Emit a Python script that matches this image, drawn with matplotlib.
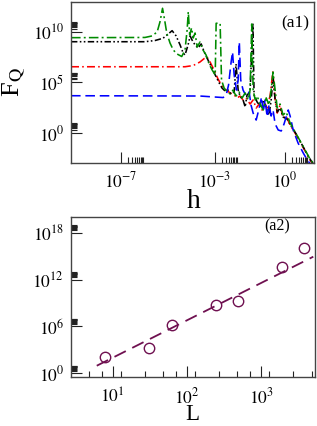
import numpy as np
import matplotlib
matplotlib.use('Agg')
import matplotlib.pyplot as plt
from matplotlib.ticker import FixedLocator, FixedFormatter, NullFormatter

plt.rcParams['font.family'] = ['Liberation Serif', 'DejaVu Serif']
plt.rcParams['mathtext.fontset'] = 'stix'

# ---------------- panel (a1): log10(h), log10(F_Q) ----------------
blue_logh = [-9.13, -3.62, -2.97, -2.63, -2.50, -2.40, -2.29, -2.23, -2.16, -2.06,
             -1.99, -1.94, -1.88, -1.78, -1.65, -1.52, -1.44, -1.35, -1.22, -1.09,
             -0.99, -0.92, -0.84, -0.75, -0.67, -0.58, -0.50, -0.41, -0.28, -0.15,
             -0.03, 0.15, 0.23, 0.36, 0.57, 0.79, 1.00, 1.08]
blue_logF = [3.68, 3.65, 3.55, 3.50, 3.75, 4.74, 7.01, 8.00, 5.73, 4.24,
             5.23, 8.98, 5.23, 4.24, 3.65, 4.05, 2.76, 1.97, 1.28, 2.47,
             3.55, 2.07, 3.26, 1.58, 2.76, 1.68, 2.27, 0.89, 0.30, 0.20,
             0.89, 2.27, 1.68, 0.30, -0.99, -1.97, -2.81, -2.96]

red_logh = [-9.13, -4.26, -3.91, -3.62, -3.44, -3.32, -3.19, -3.02, -2.85, -2.68,
            -2.50, -2.33, -2.16, -2.03, -1.91, -1.78, -1.65, -1.48, -1.35, -1.22,
            -1.09, -0.97, -0.84, -0.75, -0.62, -0.51, -0.41, -0.32, -0.20, -0.07,
            0.06, 0.23, 0.44, 0.66, 0.87, 1.08, 1.17]
red_logF = [6.54, 6.54, 6.66, 7.01, 7.35, 7.50, 7.01, 6.22, 5.33, 4.64,
            4.24, 3.95, 3.75, 3.46, 3.65, 3.26, 3.46, 2.86, 3.26, 2.47,
            2.86, 2.27, 2.86, 2.47, 3.75, 6.02, 3.26, 1.97, 2.76, 1.48,
            1.68, 0.79, 0.00, -0.89, -1.78, -2.67, -2.96]

green_logh = [-9.13, -5.97, -5.67, -5.45, -5.33, -5.22, -5.13, -5.04, -4.90, -4.76,
              -4.60, -4.40, -4.26, -4.17, -4.12, -4.06, -3.98, -3.91, -3.83, -3.74,
              -3.62, -3.49, -3.36, -3.23, -3.10, -2.97, -2.93, -2.76, -2.70, -2.59,
              -2.46, -2.33, -2.21, -2.08, -1.95, -1.82, -1.69, -1.56, -1.48, -1.41,
              -1.35, -1.26, -1.18, -1.05, -0.92, -0.79, -0.67, -0.58, -0.50, -0.41,
              -0.32, -0.20, -0.07, 0.06, 0.23, 0.44, 0.66, 0.87, 1.08, 1.21]
green_logF = [9.41, 9.43, 9.58, 9.97, 10.96, 12.31, 11.15, 9.87, 8.88, 8.19,
              7.80, 7.55, 8.19, 10.17, 11.97, 9.67, 10.37, 9.38, 9.87, 8.49,
              8.98, 8.19, 7.70, 6.81, 6.22, 5.73, 10.83, 10.83, 5.23, 4.44,
              4.05, 3.85, 4.24, 3.65, 4.05, 3.46, 3.95, 3.26, 4.24, 10.76,
              4.24, 3.26, 3.65, 2.86, 2.27, 3.46, 2.76, 4.24, 6.02, 4.24,
              2.47, 2.86, 1.78, 2.07, 0.99, 0.10, -0.79, -1.68, -2.57, -2.96]

black_logh = [-9.13, -5.97, -5.54, -5.20, -4.98, -4.81, -4.64, -4.47, -4.34, -4.26,
              -4.13, -4.04, -3.96, -3.83, -3.70, -3.57, -3.44, -3.32, -3.15, -2.97,
              -2.80, -2.68, -2.55, -2.42, -2.29, -2.16, -2.08, -1.99, -1.91, -1.78,
              -1.69, -1.61, -1.48, -1.36, -1.31, -1.18, -1.05, -0.92, -0.79, -0.67,
              -0.58, -0.50, -0.41, -0.32, -0.20, -0.07, 0.10, 0.27, 0.49, 0.70,
              0.91, 1.13, 1.21]
black_logF = [9.01, 9.01, 9.13, 9.35, 9.77, 10.10, 9.58, 8.69, 7.90, 7.70,
              8.69, 9.58, 9.18, 8.69, 8.39, 8.79, 8.00, 7.40, 6.61, 5.73,
              4.94, 4.44, 4.15, 4.24, 3.85, 4.05, 6.81, 4.24, 3.65, 3.26,
              2.57, 3.75, 4.05, 10.83, 3.75, 3.06, 2.67, 3.26, 2.47, 1.78,
              3.26, 5.43, 3.26, 2.07, 2.47, 1.58, 1.38, 0.69, -0.10, -0.99,
              -1.88, -2.76, -2.96]

a1_xticks = [1e-7, 1e-3, 1e0]
a1_xticklabels = [r'$10^{-7}$', r'$10^{-3}$', r'$10^{0}$']
a1_yticks = [1e0, 1e5, 1e10]
a1_yticklabels = [r'$10^{0}$', r'$10^{5}$', r'$10^{10}$']

# ---------------- panel (a2) ----------------
L_vals = [8, 31, 63, 245, 490, 1940, 3800]
FQmax_exp = [2.13, 3.28, 6.18, 8.74, 9.25, 13.57, 16.08]
fit_L = [6.1, 5070]
fit_exp = [0.97, 14.93]

a2_xticks = [1e1, 1e2, 1e3]
a2_xticklabels = [r'$10^{1}$', r'$10^{2}$', r'$10^{3}$']
a2_xminor_mult = [1.3, 2.7, 4.8, 7.1]
a2_yticks = [1e0, 1e6, 1e12, 1e18]
a2_yticklabels = [r'$10^{0}$', r'$10^{6}$', r'$10^{12}$', r'$10^{18}$']

W, H = 317, 426
fig = plt.figure(figsize=(W / 100, H / 100), dpi=100)


def style_axes(ax, xt, xtl, xminor, yt, ytl, yminor, xpad):
    ax.xaxis.set_major_locator(FixedLocator(xt))
    ax.xaxis.set_major_formatter(FixedFormatter(xtl))
    ax.xaxis.set_minor_locator(FixedLocator(xminor))
    ax.xaxis.set_minor_formatter(NullFormatter())
    ax.yaxis.set_major_locator(FixedLocator(yt))
    ax.yaxis.set_major_formatter(FixedFormatter(ytl))
    ax.yaxis.set_minor_locator(FixedLocator(yminor))
    ax.yaxis.set_minor_formatter(NullFormatter())
    ax.tick_params(which='both', direction='in', top=False, right=False,
                   color='#222222', width=0.8, labelsize=12.5)
    ax.tick_params(which='major', length=8.0)
    ax.tick_params(axis='y', which='major', pad=5)
    ax.tick_params(axis='x', which='major', pad=xpad)
    ax.tick_params(which='minor', length=4.3)
    for s in ax.spines.values():
        s.set_linewidth(1.0)
        s.set_color('#444444')


def minors_of(majors, mults):
    return [m * t for t in majors for m in mults]


# ---- top panel
ax1 = fig.add_axes([71 / W, 1 - 162.7 / H, 243 / W, 160.7 / H])
ax1.set_xscale('log')
ax1.set_yscale('log')
ax1.plot(10 ** np.array(red_logh), 10 ** np.array(red_logF), color='#ff0000',
         lw=1.15, ls=(0, (5, 2, 1, 2)))
ax1.plot(10 ** np.array(black_logh), 10 ** np.array(black_logF), color='black',
         lw=1.15, ls=(0, (4, 1.5, 1, 1.5, 1, 1.5)))
ax1.plot(10 ** np.array(blue_logh), 10 ** np.array(blue_logF), color='#0000ff',
         lw=1.15, ls=(0, (6, 3)))
ax1.plot(10 ** np.array(green_logh), 10 ** np.array(green_logF), color='#008b00',
         lw=1.15, ls=(0, (6, 2, 1.2, 2)))
ax1.set_xlim(10 ** -9.13, 10 ** 1.25)
ax1.set_ylim(10 ** -2.93, 10 ** 12.93)
style_axes(ax1, a1_xticks, a1_xticklabels, minors_of(a1_xticks, range(2, 10)),
           a1_yticks, a1_yticklabels, minors_of(a1_yticks, range(2, 10)), 6)
ax1.set_ylabel(r'F$_\mathrm{Q}$', fontsize=19, labelpad=4)
ax1.text(0.506, -0.280, 'h', transform=ax1.transAxes, fontsize=20,
         ha='center', va='baseline')
ax1.text(0.924, 0.869, '(a1)', transform=ax1.transAxes, fontsize=12.5,
         ha='center', va='center')

# ---- bottom panel
ax2 = fig.add_axes([71 / W, 1 - 377.3 / H, 244 / W, 160.6 / H])
ax2.set_xscale('log')
ax2.set_yscale('log')
ax2.plot(fit_L, 10 ** np.array(fit_exp), color='#6f1050', lw=1.3,
         ls=(0, (7, 4)))
ax2.plot(L_vals, 10 ** np.array(FQmax_exp), ls='none', marker='o', ms=7.5,
         mfc='none', mec='#6f1050', mew=1.0)
ax2.set_xlim(10 ** 0.438, 10 ** 3.728)
ax2.set_ylim(10 ** -0.51, 10 ** 20.05)
style_axes(ax2, a2_xticks, a2_xticklabels,
           minors_of([1e0, 1e1, 1e2, 1e3], a2_xminor_mult),
           a2_yticks, a2_yticklabels, minors_of(a2_yticks, range(2, 10)), 7.5)
ax2.text(0.496, -0.300, 'L', transform=ax2.transAxes, fontsize=16.5,
         ha='center', va='bottom')
ax2.text(0.843, 0.938, '(a2)', transform=ax2.transAxes, fontsize=11.5,
         ha='center', va='center')

fig.savefig('out.png', dpi=100)
